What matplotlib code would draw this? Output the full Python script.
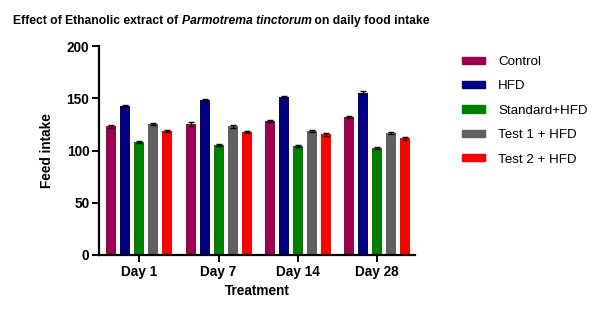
import matplotlib

matplotlib.use("Agg")
import matplotlib.patches as mpatches
import matplotlib.pyplot as plt
import numpy as np

plt.rcParams["font.family"] = ["Liberation Sans", "DejaVu Sans"]

days = ["Day 1", "Day 7", "Day 14", "Day 28"]
groups = ["Control", "HFD", "Standard+HFD", "Test 1 + HFD", "Test 2 + HFD"]
colors = ["#9E0050", "#000080", "#008000", "#606060", "#FF0000"]

control = [123, 125, 128, 132]
hfd = [143, 148, 151, 155]
standard = [108.5, 105.5, 104, 102]
test1 = [125, 123, 118.5, 116.5]
test2 = [119, 118, 115.5, 111.5]

control_err = [1.0, 2.0, 1.0, 1.0]
hfd_err = [1.0, 1.0, 1.0, 1.5]
standard_err = [1.0, 1.0, 1.0, 1.0]
test1_err = [1.0, 1.0, 1.0, 1.0]
test2_err = [1.0, 1.0, 1.5, 1.0]

series = [control, hfd, standard, test1, test2]
errors = [control_err, hfd_err, standard_err, test1_err, test2_err]

fig = plt.figure(figsize=(6.08, 3.23), dpi=100)
ax = fig.add_axes([99 / 608, 1 - 255 / 323, (415 - 99) / 608, (255 - 46) / 323])

x = np.arange(len(days))
pitch = 0.177
width = 0.127
for i, (vals, errs, col, name) in enumerate(zip(series, errors, colors, groups)):
    pos = x + (i - 2) * pitch
    ax.bar(pos, vals, width=width, color=col, label=name, zorder=2)
    ax.errorbar(pos, vals, yerr=errs, fmt="none", ecolor="black",
                elinewidth=1.0, capsize=2.2, capthick=1.0, zorder=3)

ax.set_xlim(-0.51, 3.48)
ax.set_ylim(0, 200)
ax.set_yticks([0, 50, 100, 150, 200])
ax.set_xticks(x)
ax.set_xticklabels(days)
for s in ["top", "right"]:
    ax.spines[s].set_visible(False)
for s in ["left", "bottom"]:
    ax.spines[s].set_linewidth(1.6)
ax.tick_params(axis="both", length=5, width=1.4, labelsize=9.8, pad=2)
for lab in ax.get_xticklabels() + ax.get_yticklabels():
    lab.set_fontweight("bold")
ax.set_ylabel("Feed intake", fontsize=9.8, fontweight="bold", labelpad=9)
ax.set_xlabel("Treatment", fontsize=9.8, fontweight="bold", labelpad=4)

handles = [mpatches.Patch(color=c, label=g) for c, g in zip(colors, groups)]
fig.legend(handles=handles, loc="upper left", bbox_to_anchor=(450 / 608, 1 - 44 / 323),
           frameon=False, fontsize=9.6, handlelength=1.7, handleheight=0.45,
           handletextpad=1.0, labelspacing=0.93)

# title with italic species name, pieces chained left to right
t1 = fig.text(13 / 608, 1 - 24 / 323, "Effect of Ethanolic extract of ",
              fontsize=8.7, fontweight="bold", va="baseline", ha="left")
t2 = fig.text(0, 0, "Parmotrema tinctorum", fontsize=8.7, fontweight="bold",
              fontstyle="italic", va="baseline", ha="left")
t3 = fig.text(0, 0, " on daily food intake", fontsize=8.7, fontweight="bold",
              va="baseline", ha="left")
fig.canvas.draw()
r = fig.canvas.get_renderer()
inv = fig.transFigure.inverted()
base = 1 - 24 / 323
bb1 = t1.get_window_extent(r)
t2.set_position((inv.transform((bb1.x1, 0))[0], base))
fig.canvas.draw()
bb2 = t2.get_window_extent(r)
t3.set_position((inv.transform((bb2.x1, 0))[0], base))

fig.savefig("out.png", dpi=100)
